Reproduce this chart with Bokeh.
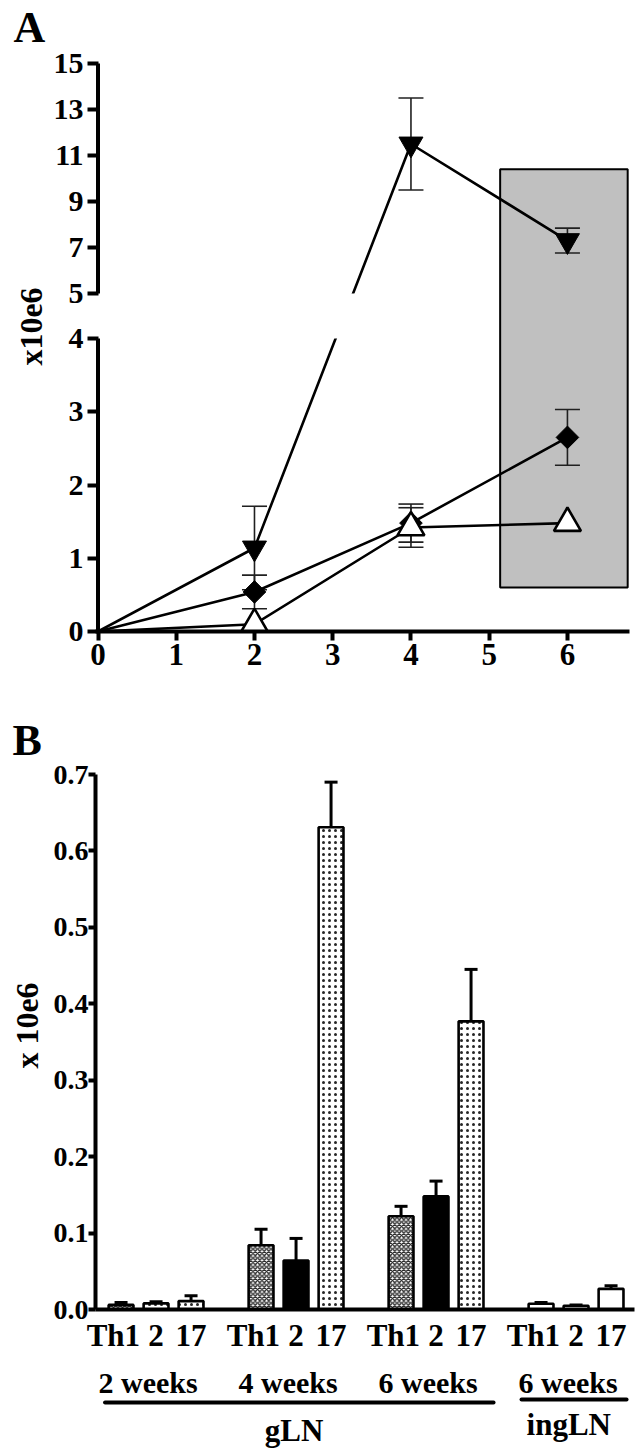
import numpy as np
from bokeh.plotting import figure
from bokeh.models import (Range1d, FixedTicker, CustomJSTickFormatter, ColumnDataSource,
                          PrintfTickFormatter)
from bokeh.layouts import column, row
from bokeh.embed import file_html
from bokeh.resources import INLINE

FONT = "Liberation Serif"

# ---------------- Panel A data ----------------
weeks = [0, 2, 4, 6]
tri_down_mean = [0.0, 1.14, 11.5, 7.3]
tri_down_err = [0.0, 0.57, 2.0, 0.54]
diamond_mean = [0.0, 0.54, 1.48, 2.65]
diamond_err = [0.0, 0.23, 0.26, 0.38]
tri_open_mean = [0.0, 0.10, 1.42, 1.48]
tri_open_err = [0.0, 0.0, 0.27, 0.0]
a_yticks_low = [0, 1, 2, 3, 4]
a_yticks_high = [5, 7, 9, 11, 13, 15]
a_xticks = [0, 1, 2, 3, 4, 5, 6]
shade_x = [5.14, 6.77]
shade_y = [0.6, 10.4]

# ---------------- Panel B data ----------------
groups = ["2 weeks", "4 weeks", "6 weeks", "6 weeks"]
subsets = ["Th1", "2", "17"]
th1_vals = [0.006, 0.084, 0.122, 0.0075]
th2_vals = [0.008, 0.064, 0.148, 0.005]
th17_vals = [0.011, 0.631, 0.377, 0.027]
th1_err = [0.003, 0.021, 0.013, 0.0015]
th2_err = [0.002, 0.029, 0.020, 0.001]
th17_err = [0.007, 0.059, 0.068, 0.004]
b_yticks = [0.0, 0.1, 0.2, 0.3, 0.4, 0.5, 0.6, 0.7]
tissues = ["gLN", "ingLN"]
tissue_groups = [[0, 1, 2], [3]]

# ---------------- broken axis mapping (panel A) ----------------
BREAK_LOW, BREAK_HIGH, GAP, UPPER_K = 4.0, 5.0, 0.615, 0.314


def disp(v):
    v = np.asarray(v, dtype=float)
    return np.where(v <= BREAK_LOW, v, BREAK_LOW + GAP + (v - BREAK_HIGH) * UPPER_K)


def style_axis(ax, size="30px", tick_out=10, tick_in=0, standoff=5, line_w=4):
    ax.axis_line_width = line_w
    ax.axis_line_color = "black"
    ax.major_tick_line_width = 4
    ax.major_tick_line_color = "black"
    ax.major_tick_out = tick_out
    ax.major_tick_in = tick_in
    ax.minor_tick_line_color = None
    ax.major_label_text_font = FONT
    ax.major_label_text_font_style = "bold"
    ax.major_label_text_font_size = size
    ax.major_label_text_color = "black"
    ax.major_label_standoff = standoff


def text_panel(w, h, bottom):
    f = figure(frame_width=w, frame_height=h, x_range=Range1d(0, w), y_range=Range1d(0, h),
               x_axis_type=None, y_axis_type=None, output_backend="svg", toolbar_location=None,
               min_border_left=0, min_border_right=0, min_border_top=0, min_border_bottom=bottom,
               outline_line_color=None)
    f.grid.visible = False
    return f


TXT = dict(text_font=FONT, text_font_style="bold", text_color="black")
MID = 0.3375   # middle of the text box above the baseline, in em


def mid_of(baseline_y, size_px):
    """page y of a text's vertical middle given its baseline (page y, downwards)"""
    return baseline_y - MID * size_px


LEFT_W = 50          # width of the side text strip
FRAME_L = 43         # border between strip and plot frame
FRAME_W = 539
BOT_A = 64           # bottom border under panel A
BOT_B = 50           # bottom border under panel B

# ================= Panel A =================
A_FH = 631
leftA = text_panel(LEFT_W, A_FH, BOT_A)
leftA.text(x=[13], y=[A_FH - mid_of(42, 44)], text=["A"], text_font_size="44px",
           text_align="left", text_baseline="middle", **TXT)
leftA.text(x=[30], y=[A_FH - 326], text=["x10e6"], angle=np.pi / 2, text_font_size="32px",
           text_align="center", text_baseline="middle", **TXT)

A_PX_PER_UNIT = 568 / float(disp(15))
A_X_PX = 78.24
ax0 = -2.5 / A_X_PX
pA = figure(frame_width=FRAME_W, frame_height=A_FH,
            x_range=Range1d(ax0, ax0 + FRAME_W / A_X_PX), y_range=Range1d(0, A_FH / A_PX_PER_UNIT),
            output_backend="svg", toolbar_location=None,
            min_border_left=FRAME_L, min_border_right=11, min_border_top=0, min_border_bottom=BOT_A,
            outline_line_color=None, background_fill_color="white")
pA.grid.visible = False

pA.quad(left=shade_x[0], right=shade_x[1], bottom=float(disp(shade_y[0])), top=float(disp(shade_y[1])),
        fill_color="#c0c0c0", line_color="black", line_width=2)

for m in (tri_down_mean, diamond_mean, tri_open_mean):
    pA.line(weeks, disp(m), line_color="black", line_width=2.6)

# white mask across the axis break
pA.quad(left=ax0, right=shade_x[0] - 0.05, bottom=float(disp(BREAK_LOW)), top=float(disp(BREAK_HIGH)),
        fill_color="white", line_color=None)

# broken y-axis line (two pieces)
pA.segment(x0=[0, 0], y0=[0, float(disp(BREAK_HIGH))], x1=[0, 0],
           y1=[BREAK_LOW, float(disp(a_yticks_high[-1]))], line_color="black", line_width=4)

for m, e in ((tri_down_mean, tri_down_err), (diamond_mean, diamond_err), (tri_open_mean, tri_open_err)):
    m = np.array(m); e = np.array(e); x = np.array(weeks, dtype=float)
    k = e > 0
    lo = disp(m[k] - e[k]); hi = disp(m[k] + e[k])
    pA.segment(x0=x[k], y0=lo, x1=x[k], y1=hi, line_color="#202020", line_width=1.6)
    pA.scatter(x[k], hi, marker="dash", size=25, line_color="#202020", line_width=1.6)
    pA.scatter(x[k], lo, marker="dash", size=25, line_color="#202020", line_width=1.6)

xm = np.array(weeks[1:], dtype=float)
pA.scatter(xm, disp(tri_down_mean[1:]), marker="inverted_triangle", size=24,
           fill_color="black", line_color="black", line_width=1)
pA.scatter(xm, disp(diamond_mean[1:]), marker="square", angle=np.pi / 4, size=16,
           fill_color="black", line_color="black", line_width=1)
pA.scatter(xm, disp(tri_open_mean[1:]), marker="triangle", size=27,
           fill_color="white", line_color="black", line_width=2.6)

ya = pA.yaxis[0]
ya.ticker = FixedTicker(ticks=[float(t) for t in disp(a_yticks_low + a_yticks_high)])
ya.formatter = CustomJSTickFormatter(
    code="if (tick <= %r + 1e-6) { return tick.toFixed(0); } "
         "return Math.round(%r + (tick - %r) / %r).toFixed(0);"
         % (BREAK_LOW, BREAK_HIGH, BREAK_LOW + GAP, UPPER_K))
style_axis(ya, size="30px", tick_out=8, tick_in=3, standoff=4)
ya.axis_line_color = None

xa = pA.xaxis[0]
xa.ticker = FixedTicker(ticks=a_xticks)
xa.bounds = (ax0, 6.79)
style_axis(xa, size="31px", tick_out=9, standoff=3)

# ================= Panel B =================
B_TOP = A_FH + BOT_A               # page y where row B starts
B_FH = 1309 - B_TOP                # frame reaches down to the 0.0 baseline
B_PLOT_H = 535                     # pixels from 0.0 to 0.7
leftB = text_panel(LEFT_W, B_FH, BOT_B)
leftB.text(x=[12], y=[B_FH - (mid_of(755, 44) - B_TOP)], text=["B"], text_font_size="44px",
           text_align="left", text_baseline="middle", **TXT)
leftB.text(x=[26], y=[B_FH - (1025 - B_TOP)], text=["x 10e6"], angle=np.pi / 2, text_font_size="32px",
           text_align="center", text_baseline="middle", **TXT)

pB = figure(frame_width=FRAME_W, frame_height=B_FH,
            x_range=Range1d(-0.73, -0.73 + FRAME_W / 35.0), y_range=Range1d(0, 0.7 * B_FH / B_PLOT_H),
            output_backend="svg", toolbar_location=None,
            min_border_left=FRAME_L, min_border_right=11, min_border_top=0, min_border_bottom=BOT_B,
            outline_line_color=None, background_fill_color="white")
pB.grid.visible = False

fill_map = {"Th1": "white", "2": "black", "17": "white"}
hatch_map = {"Th1": "diagonal_cross", "2": "blank", "17": "dot"}
hatch_scale_map = {"Th1": 4.5, "2": 6, "17": 6}
label_shift = {"Th1": -0.22, "2": 0.0, "17": 0.0}

xs, tops, errs, fills, hatches, hscales = [], [], [], [], [], []
tick_pos, tick_lab = [], {}
for gi, g in enumerate(groups):
    for si, (s, vals, ers) in enumerate(zip(subsets, (th1_vals, th2_vals, th17_vals),
                                            (th1_err, th2_err, th17_err))):
        pos = gi * 4 + si
        xs.append(pos)
        tops.append(vals[gi])
        errs.append(ers[gi])
        tp = pos + label_shift[s]
        tick_pos.append(tp)
        tick_lab["%.2f" % tp] = s
        if gi == len(groups) - 1:
            fills.append("white"); hatches.append("blank")
        elif gi == 0 and s == "2":
            fills.append("white"); hatches.append("dot")
        else:
            fills.append(fill_map[s]); hatches.append(hatch_map[s])
        hscales.append(hatch_scale_map[s])

src = ColumnDataSource(dict(x=xs, top=tops, hi=np.array(tops) + np.array(errs),
                            fill=fills, hatch=hatches, hs=hscales))
pB.segment(x0="x", y0="top", x1="x", y1="hi", source=src, line_color="black", line_width=3)
pB.scatter("x", "hi", source=src, marker="dash", size=13, line_color="black", line_width=3)
pB.vbar(x="x", top="top", bottom=0, width=0.71, source=src, fill_color="fill",
        hatch_pattern="hatch", hatch_scale="hs", hatch_color="black", hatch_weight=1.4,
        hatch_alpha=0.85, line_color="black", line_width=2.6)

yb = pB.yaxis[0]
yb.ticker = FixedTicker(ticks=b_yticks)
yb.bounds = (0, 0.7)
yb.formatter = PrintfTickFormatter(format="%.1f")
style_axis(yb, size="28px", tick_out=7, standoff=0)

xb = pB.xaxis[0]
xb.ticker = FixedTicker(ticks=tick_pos)
xb.formatter = CustomJSTickFormatter(
    args=dict(labs=tick_lab),
    code="const k = tick.toFixed(2); return (k in labs) ? labs[k] : '';")
style_axis(xb, size="31px", tick_out=0, standoff=8)
xb.major_tick_line_color = None

# ================= group / tissue labels under panel B =================
C_TOP = 1309 + BOT_B
C_H = 1451 - C_TOP
pC = figure(frame_width=FRAME_W, frame_height=C_H, x_range=pB.x_range, y_range=Range1d(0, C_H),
            x_axis_type=None, y_axis_type=None, output_backend="svg", toolbar_location=None,
            min_border_left=LEFT_W + FRAME_L, min_border_right=11, min_border_top=0, min_border_bottom=0,
            outline_line_color=None)
pC.grid.visible = False


def cy(page_y):
    return C_H - (page_y - C_TOP)


grp_x = [gi * 4 + 1 - 0.17 for gi in range(len(groups))]
pC.text(x=grp_x, y=[cy(mid_of(1392, 30))] * len(groups), text=groups, text_font_size="30px",
        text_align="center", text_baseline="middle", **TXT)

tissue_line_y = [cy(1402), cy(1399)]
tissue_text_y = [cy(mid_of(1440, 31)), cy(mid_of(1434, 31))]
tissue_pad = [(-0.4, 0.7), (-0.5, 0.5)]
for ti, t in enumerate(tissues):
    gs = tissue_groups[ti]
    left = gs[0] * 4 + tissue_pad[ti][0]
    right = gs[-1] * 4 + 2 + tissue_pad[ti][1]
    pC.segment(x0=[left], y0=[tissue_line_y[ti]], x1=[right], y1=[tissue_line_y[ti]],
               line_color="black", line_width=4, line_cap="round")
    pC.text(x=[(left + right) / 2 - 0.15], y=[tissue_text_y[ti]], text=[t], text_font_size="31px",
            text_align="center", text_baseline="middle", **TXT)

layout = column(row(leftA, pA), row(leftB, pB), pC)
open("out.html", "w").write(file_html(layout, INLINE))
